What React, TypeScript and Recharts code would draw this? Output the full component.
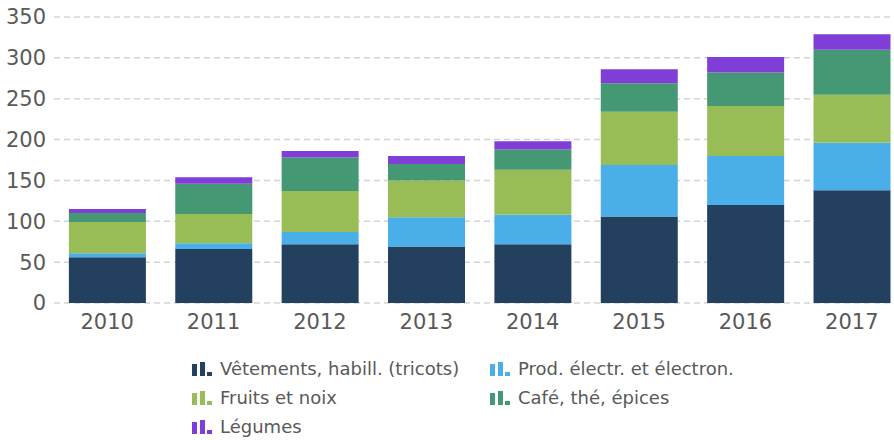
import { BarChart, Bar, XAxis, YAxis, CartesianGrid } from 'recharts';

// values
const years = ['2010', '2011', '2012', '2013', '2014', '2015', '2016', '2017'];
const vetements = [56, 66, 72, 69, 72, 106, 120, 138];
const electro = [5, 7, 15, 36, 36, 63, 60, 58];
const fruits = [38, 36, 50, 45, 55, 65, 61, 59];
const cafe = [11, 37, 41, 20, 25, 35, 41, 55];
const legumes = [5, 8, 8, 10, 10, 17, 19, 19];
const yTicks = [0, 50, 100, 150, 200, 250, 300, 350];

const series = [
    { key: 'vetements', label: 'Vêtements, habill. (tricots)', color: '#24405f', values: vetements },
    { key: 'electro', label: 'Prod. électr. et électron.', color: '#4aaee9', values: electro },
    { key: 'fruits', label: 'Fruits et noix', color: '#99bd56', values: fruits },
    { key: 'cafe', label: 'Café, thé, épices', color: '#449873', values: cafe },
    { key: 'legumes', label: 'Légumes', color: '#7f3fd6', values: legumes },
];

const data = years.map((year, i) => {
    const row: any = { year };
    series.forEach((s) => { row[s.key] = s.values[i]; });
    return row;
});

const FONT = '"DejaVu Sans", Verdana, sans-serif';
const TEXT = '#595959';

function LegendIcon({ color }: { color: string }) {
    return (
        <svg width={20} height={14} style={{ marginRight: 8, flexShrink: 0 }}>
            <rect x={0} y={2} width={5} height={12} fill={color} />
            <rect x={8} y={0} width={5} height={14} fill={color} />
            <rect x={15} y={10} width={5} height={4} fill={color} />
        </svg>
    );
}

export default function App() {
    return (
        <div style={{ position: 'absolute', left: 0, top: 0, width: 894, height: 440, overflow: 'hidden', background: '#fff', fontFamily: FONT }}>
            <BarChart
                width={910}
                height={350}
                data={data}
                margin={{ top: 17, right: 5, bottom: 17, left: 0 }}
                barCategoryGap="14%"
            >
                <CartesianGrid strokeDasharray="6 4" vertical={false} stroke="#d4d4d4" strokeWidth={1.5} />
                <XAxis
                    dataKey="year"
                    axisLine={false}
                    tickLine={false}
                    tickMargin={5}
                    height={30}
                    tick={{ fill: TEXT, fontSize: 21, fontFamily: FONT }}
                />
                <YAxis
                    width={54}
                    domain={[0, 350]}
                    ticks={yTicks}
                    axisLine={false}
                    tickLine={false}
                    tick={{ fill: TEXT, fontSize: 21, fontFamily: FONT }}
                />
                {series.map((s) => (
                    <Bar key={s.key} dataKey={s.key} name={s.label} stackId="a" fill={s.color} isAnimationActive={false} />
                ))}
            </BarChart>
            <div
                style={{
                    position: 'absolute',
                    left: 192,
                    top: 359,
                    display: 'grid',
                    gridTemplateColumns: '298px 260px',
                    rowGap: 9,
                    fontSize: 18,
                    color: TEXT,
                    lineHeight: '20px',
                }}
            >
                {series.map((s) => (
                    <div key={s.key} style={{ display: 'flex', alignItems: 'center', whiteSpace: 'nowrap' }}>
                        <LegendIcon color={s.color} />
                        <span>{s.label}</span>
                    </div>
                ))}
            </div>
        </div>
    );
}
